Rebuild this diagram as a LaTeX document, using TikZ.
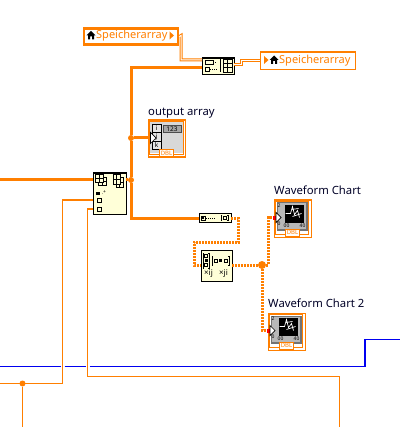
\documentclass[tikz,border=0pt]{standalone}
\usepackage{fontspec}
\setmainfont{Noto Sans}
\usepackage{xcolor}
\usetikzlibrary{arrows.meta,positioning,calc}
\definecolor{lvorange}{HTML}{FF7F00}
\definecolor{lvblue}{HTML}{0000F0}
\definecolor{lvyellow}{HTML}{FFFFD8}
\definecolor{lvgray}{HTML}{D8D8D8}

\begin{document}
\begin{tikzpicture}[
		x=1pt,
		y=-1pt,
		line join=miter,
		vi/.style={draw=black,fill=lvyellow,line width=1.2pt,inner sep=0pt,anchor=north west},
		ctl/.style={draw=lvorange,fill=white,inner sep=0pt,anchor=north west},
		term/.style={draw=lvorange,line width=1.1pt,fill=none,inner sep=0pt,anchor=north west},
		caption/.style={inner sep=0pt,anchor=west,font=\fontsize{11.3}{13}\selectfont,text=black!85!blue},
		arrname/.style={inner sep=0pt,anchor=west,font=\fontsize{11}{13}\selectfont,text=lvorange},
		tiny/.style={inner sep=0pt,font=\fontsize{5}{6}\selectfont\bfseries},
		junc/.style={circle,fill=lvorange,inner sep=0pt,minimum size=6pt},
		thickwire/.style={draw=lvorange,line width=3pt},
		thinwire/.style={draw=lvorange,line width=1.5pt},
		dblwire/.style={draw=lvorange,line width=1pt,double=white,double distance=1pt},
		dotwire/.style={draw=lvorange,line width=3pt,dash pattern=on 2pt off 1pt},
		bluewire/.style={draw=lvblue,line width=1.5pt},
		grid/.style={draw=black,line width=.7pt,fill=lvyellow},
		dots/.style={draw=black,line width=.8pt,dash pattern=on 1pt off 1pt},
		dbl/.style={draw=lvorange,fill=white,line width=1pt,text=lvorange,inner sep=0pt,font=\fontsize{6}{7}\selectfont\bfseries,minimum width=14pt,minimum height=7pt,anchor=north west}
		]
	
	\useasboundingbox (0,0) rectangle (400,427);
	
	%------------------------------
	% Speicherarray terminals
	%------------------------------
	\node[ctl,line width=2.2pt,minimum width=94pt,minimum height=16pt] (spCtl) at (83,27.5) {};
	\node[ctl,line width=1.1pt,minimum width=95pt,minimum height=17.5pt] (spInd) at (259.5,51.5) {};
	\node[arrname] (spCtlText) at (96,35.7) {Speicherarray};
	\node[arrname] (spIndText) at (279,60.2) {Speicherarray};
	\fill[lvorange] (169.5,31.5) -- (174,35.5) -- (169.5,39.5) -- cycle;
	\fill[lvorange] (264,56) -- (268.5,60) -- (264,64) -- cycle;
	\foreach \hx/\hy in {91/35.5,274/60}{
		\fill[black] (\hx-4.5,\hy) -- (\hx,\hy-4.5) -- (\hx+4.5,\hy) -- (\hx+3,\hy) -- (\hx+3,\hy+4)
			-- (\hx+1,\hy+4) -- (\hx+1,\hy+1) -- (\hx-1,\hy+1) -- (\hx-1,\hy+4) -- (\hx-3,\hy+4) -- (\hx-3,\hy) -- cycle;
	}
	
	%------------------------------
	% Function nodes
	%------------------------------
	\node[vi,minimum width=32pt,minimum height=16.5pt] (reshape) at (202,57.5) {};
	\node[vi,minimum width=32.5pt,minimum height=41pt] (buildA) at (93,172.5) {};
	\node[vi,minimum width=32pt,minimum height=9pt] (bundle) at (199,213) {};
	\node[vi,minimum width=31pt,minimum height=31pt] (matrix) at (200.5,249.5) {};
	
	% reshape icon
	\draw[black,line width=.7pt] (205,60) rectangle (213,64) (205.5,67) rectangle (209.5,71);
	\draw[dots] (213,62) -- (217,62);
	\draw[dots] (210,69) -- (217,69);
	\draw[black,line width=.8pt] (220,59) -- (220,72);
	\draw[grid] (223,59) rectangle (232,72);
	\draw[black,line width=.7pt] (227.5,59) -- (227.5,72) (223,63.3) -- (232,63.3) (223,67.6) -- (232,67.6);
	
	% build array icon
	\foreach \gx/\gy/\gw/\gh in {98/177/8/8,116/177/7/10,95/174/8/8,113/174/7/10}{
		\draw[grid] (\gx,\gy) rectangle ++(\gw,\gh);
		\draw[black,line width=.5pt] (\gx+\gw/2,\gy) -- ++(0,\gh) (\gx,\gy+\gh/2) -- ++(\gw,0);
	}
	\fill[black] (96,192) rectangle (100,195.5);
	\node[tiny] (buildDots) at (104,192.5) {.\raisebox{1pt}{+}};
	\draw[black,line width=.8pt] (97,198) rectangle (101.5,202) (97,207) rectangle (101.5,211);
	
	% bundle icon
	\draw[black,line width=.7pt] (201,216) rectangle (205,220);
	\fill[black] (202.3,217.2) rectangle (203.7,218.8);
	\draw[dots] (206,218) -- (215,218);
	\draw[black,line width=.7pt] (222,215.5) -- (221,215.5) -- (221,220.5) -- (222,220.5)
		(227,215.5) -- (228,215.5) -- (228,220.5) -- (227,220.5);
	\draw[black,line width=.7pt] (223,216.5) rectangle (226.5,219.5);
	
	% matrix icon
	\draw[black,line width=.7pt] (204,253) -- (203,253) -- (203,268) -- (204,268)
		(208,253) -- (209,253) -- (209,268) -- (208,268);
	\draw[black,line width=.6pt] (204.5,254) rectangle (207.5,257);
	\fill[black] (204.5,258.5) rectangle (207.5,261.5);
	\draw[black,line width=.6pt] (204.5,263) rectangle (207.5,266);
	\draw[black,line width=.7pt] (213,256) -- (212,256) -- (212,265) -- (213,265)
		(228,256) -- (229,256) -- (229,265) -- (228,265);
	\draw[black,line width=.6pt] (214,259) rectangle (217,262) (224,259) rectangle (227,262);
	\fill[black] (219,259) rectangle (222,262);
	\node[tiny,font=\fontsize{8}{9}\selectfont\bfseries] (matL) at (208.5,274) {×ij};
	\node[tiny,font=\fontsize{8}{9}\selectfont\bfseries] (matR) at (223.5,274) {×ji};
	
	%------------------------------
	% Output array indicator
	%------------------------------
	\node[term,minimum width=37pt,minimum height=37pt] (outA) at (147.5,119.5) {};
	\fill[lvgray] (150,122) rectangle (182.5,153.5);
	\draw[lvorange,line width=.8pt] (149.5,121.5) rectangle (183,154);
	\foreach \ry/\rt in {124/i,132.5/j,141/k}{
		\draw[black,fill=lvgray!70,line width=.7pt] (152,\ry) rectangle ++(9,8.5);
		\node[tiny,font=\fontsize{6.5}{7}\selectfont\bfseries] at (156.5,\ry+4) {\rt};
	}
	\draw[black!70,fill=black!35,line width=.5pt] (163,125) rectangle (181,132.5);
	\node[tiny,font=\fontsize{6.5}{7}\selectfont\bfseries] (outNum) at (172,128.8) {123};
	\node[dbl] (outDbl) at (159,149) {DBL};
	
	%------------------------------
	% Charts
	%------------------------------
	\foreach \nm/\cx/\cy in {chartA/273.5/199.5,chartB/267.5/312.5}{
		\node[term,minimum width=37pt,minimum height=37pt] (\nm) at (\cx,\cy) {};
		\draw[lvorange,line width=.8pt] (\cx+2,\cy+2) rectangle (\cx+35,\cy+35);
		\fill[black!55] (\cx+3,\cy+3) rectangle (\cx+34,\cy+31);
		\fill[black!28] (\cx+4,\cy+4) rectangle (\cx+32,\cy+29);
		\fill[black] (\cx+11.5,\cy+5.5) rectangle (\cx+30,\cy+23.5);
		\draw[white,line width=.7pt] (\cx+12,\cy+14) -- (\cx+17,\cy+14) -- (\cx+19,\cy+7) -- (\cx+21,\cy+15) -- (\cx+24,\cy+11) -- (\cx+26,\cy+18)
			(\cx+18,\cy+10) -- (\cx+25,\cy+9) (\cx+19,\cy+17) -- (\cx+28,\cy+14);
		\node[tiny] at (\cx+5.5,\cy+6) {2};
		\node[tiny] at (\cx+5.5,\cy+24) {0};
		\node[tiny] at (\cx+13,\cy+26.5) {00};
		\node[tiny] at (\cx+29,\cy+26.5) {40};
		\node[dbl] at (\cx+11.5,\cy+29) {DBL};
	}
	
	%------------------------------
	% Labels
	%------------------------------
	\node[caption] (lblOut) at (148,113) {output array};
	\node[caption] (lblChartA) at (274,190.5) {Waveform Chart};
	\node[caption] (lblChartB) at (268,303.5) {Waveform Chart 2};
	
	%------------------------------
	% Wires
	%------------------------------
	\coordinate (reIn) at (202,60);
	\coordinate (reOut) at (234,65);
	\coordinate (reArr) at (202,68);
	\coordinate (outIn) at (150,138);
	\coordinate (baTop) at (93,180);
	\coordinate (baMid) at (93,200);
	\coordinate (baLow) at (93,209);
	\coordinate (baOut) at (126,180);
	\coordinate (inThick) at (0,180);
	\coordinate (inThin) at (0,383.5);
	\coordinate (downA) at (22.5,427);
	\coordinate (downB) at (339.5,427);
	\coordinate (buIn) at (199,218);
	\coordinate (buOut) at (231,218);
	\coordinate (maIn) at (200.5,265);
	\coordinate (maOut) at (231.5,265);
	\coordinate (chAIn) at (275,217.5);
	\coordinate (chBIn) at (269,330.5);
	
	\node[junc] (jTop) at (131,138) {};
	\node[junc] (jMid) at (131,180) {};
	\node[junc,minimum size=8pt] (jDot) at (262,265) {};
	\node[junc] (jIn) at (22.5,383.5) {};
	
	\draw[dblwire] (spCtl.east) -- (181,35.5) |- (reIn);
	\draw[dblwire] (reOut) -- (241,65) |- (spInd.west);
	
	\draw[thickwire] (reArr) -| (jTop);
	\draw[thickwire] (jTop) -- (jMid);
	\draw[thickwire] (jMid) |- (bundle.west);
	\draw[thickwire] (jTop) -- (outIn);
	\draw[thickwire] (baOut) -- (jMid);
	\draw[thickwire] (inThick) -- (baTop);
	
	\draw[thinwire] (baMid) -- (62.5,200) |- (inThin);
	\draw[thinwire] (jIn) -- (downA);
	\draw[thinwire] (baLow) -- (87.5,209) |- (339.5,376.5) -- (downB);
	
	\draw[dotwire] (buOut) -- (238.5,218) |- (194,242) |- (maIn);
	\draw[dotwire] (maOut) -- (jDot);
	\draw[dotwire] (jDot) -- (268.5,265) |- (chAIn);
	\draw[dotwire] (jDot) |- (chBIn);
	
	\draw[bluewire] (0,366.5) -- (60.5,366.5);
	\draw[bluewire] (64.5,366.5) -- (85.5,366.5);
	\draw[bluewire] (89.5,366.5) -- (365,366.5) -- (365,339.5) -- (400,339.5);
	
	%------------------------------
	% Input arrows
	%------------------------------
	\draw[black,fill=white,line width=.7pt] (150.5,132.5) -- (156,138) -- (150.5,143.5) -- cycle;
	\foreach \tx in {chAIn,chBIn}{
		\fill[red] ($(\tx)+(-2.5,-2)$) rectangle ($(\tx)+(1.5,2)$);
		\draw[black,fill=white,line width=.7pt] ($(\tx)+(1,-5)$) -- ($(\tx)+(6,0)$) -- ($(\tx)+(1,5)$) -- cycle;
	}
\end{tikzpicture}
\end{document}
